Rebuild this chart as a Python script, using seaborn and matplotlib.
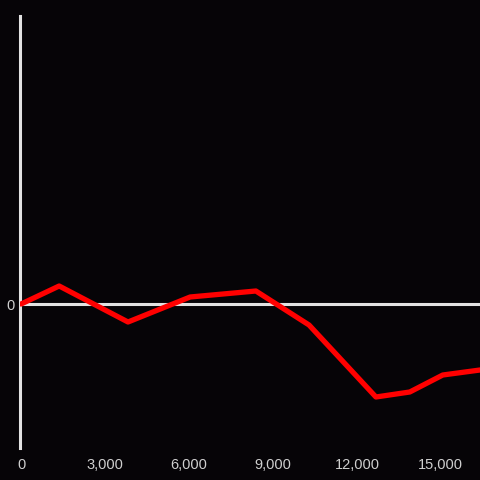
import matplotlib
matplotlib.use('Agg')
import matplotlib.pyplot as plt
import matplotlib.ticker as mticker
import pandas as pd
import seaborn as sns

# values
x_vals = [0, 1360, 3820, 6040, 8390, 10290, 12680, 13890, 15070, 16400]
y_vals = [0, 18, -18, 7, 13, -21, -93, -88, -71, -66]
x_ticks = [0, 3000, 6000, 9000, 12000, 15000]

df = pd.DataFrame({'x': x_vals, 'y': y_vals})

bg = '#060407'
axis_col = '#e2e2e2'
label_col = '#cfcfcf'

sns.set_style('dark')
plt.rcParams['font.family'] = ['Liberation Sans', 'DejaVu Sans']

fig = plt.figure(figsize=(4.8, 4.8), dpi=100, facecolor=bg)
ax = fig.add_axes([20 / 480, 32 / 480, 460 / 480, 432 / 480])
ax.set_facecolor(bg)

ax.axhline(0, color=axis_col, lw=2.2, zorder=1)
sns.lineplot(data=df, x='x', y='y', color='#ff0000', lw=3.8, ax=ax, zorder=3)

ax.set_xlim(-40, 16400)
ax.set_ylim(-144, 288)
ax.set_xticks(x_ticks)
ax.xaxis.set_major_formatter(mticker.FuncFormatter(lambda v, p: f'{int(v):,}'))
ax.set_yticks([0])
ax.tick_params(axis='both', length=0, colors=label_col, labelsize=10.5)
ax.tick_params(axis='x', pad=7)
ax.tick_params(axis='y', pad=4)
ax.set_xlabel('')
ax.set_ylabel('')
ax.grid(False)

for side in ['top', 'right', 'bottom']:
    ax.spines[side].set_visible(False)
ax.spines['left'].set_visible(True)
ax.spines['left'].set_color(axis_col)
ax.spines['left'].set_linewidth(2.2)

fig.savefig('out.png', dpi=100, facecolor=bg)
